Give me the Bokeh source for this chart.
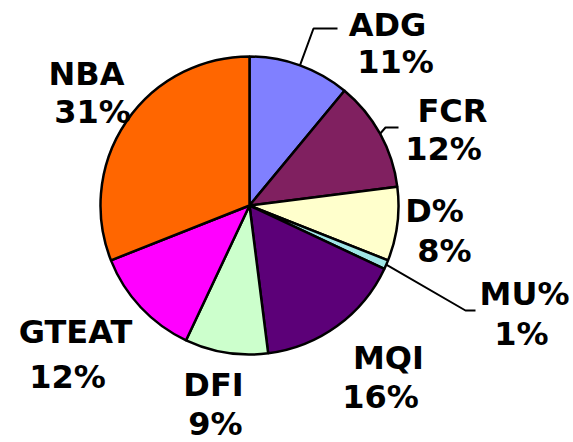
import math
from bokeh.plotting import figure
from bokeh.models import Range1d, ColumnDataSource
from bokeh.core.properties import value
from bokeh.embed import file_html
from bokeh.resources import INLINE

# Share of each trait (percent), clockwise from 12 o'clock
traits = ["ADG", "FCR", "D%", "MU%", "MQI", "DFI", "GTEAT", "NBA"]
shares = [11, 12, 8, 1, 16, 9, 12, 31]
colors = ["#8080FF", "#802060", "#FFFFCC", "#A0E6E6", "#5C0078", "#CCFFCC", "#FF00FF", "#FF6600"]

W, H = 573, 442
CX, CY, R = 249, H - 205, 149

p = figure(width=W, height=H, output_backend="svg", toolbar_location=None,
           x_range=Range1d(0, W), y_range=Range1d(0, H), min_border=0)
p.axis.visible = False
p.grid.visible = False
p.outline_line_color = None
p.background_fill_color = "white"

total = float(sum(shares))
starts, ends, mids = [], [], []
cum = 0.0
for s in shares:
    a0 = math.pi / 2 - 2 * math.pi * cum / total
    cum += s
    a1 = math.pi / 2 - 2 * math.pi * cum / total
    starts.append(a0)
    ends.append(a1)
    mids.append((a0 + a1) / 2)

src = ColumnDataSource(dict(start=starts, end=ends, color=colors))
p.wedge(x=CX, y=CY, radius=R, start_angle="start", end_angle="end",
        direction="clock", fill_color="color", line_color="black",
        line_width=2.5, source=src)

# leader lines for the labels that sit away from their slice
def edge(i):
    return CX + R * math.cos(mids[i]), CY + R * math.sin(mids[i])

leaders = {
    "ADG": [(313, 28), (337, 28)],
    "FCR": [(385, 127), (398, 127)],
    "MU%": [(465, 310), (475, 310)],
}
for name, pts in leaders.items():
    x0, y0 = edge(traits.index(name))
    xs = [x0] + [q[0] for q in pts]
    ys = [y0] + [H - q[1] for q in pts]
    p.line(xs, ys, line_color="black", line_width=2)

# label layout: (name line centre, percent line centre) in page pixels
label_pos = {
    "ADG": ((387, 24), (395, 61)),
    "FCR": ((452, 110), (443, 148)),
    "D%": ((434, 210), (444, 250)),
    "MU%": ((524, 293), (521, 333)),
    "MQI": ((388, 357), (380, 396)),
    "DFI": ((213, 384), (215, 423)),
    "GTEAT": ((75, 331), (67, 376)),
    "NBA": ((86, 73), (92, 111)),
}
tx, ty, tt = [], [], []
for name, s in zip(traits, shares):
    (x1, y1), (x2, y2) = label_pos[name]
    tx += [x1, x2]
    ty += [H - y1, H - y2]
    tt += [name, f"{s}%"]

p.text(x=tx, y=ty, text=tt, text_align="center", text_baseline="middle",
       text_font=value("DejaVu Sans"), text_font_style="bold",
       text_font_size="32px", text_color="black")

open("out.html", "w").write(file_html(p, INLINE))
